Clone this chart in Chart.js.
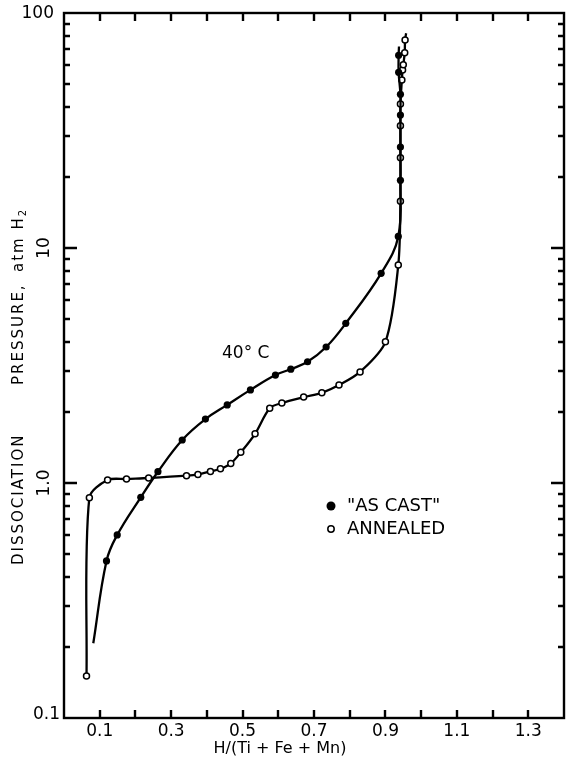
<!DOCTYPE html>
<html>
<head>
<meta charset="utf-8">
<script src="https://cdn.jsdelivr.net/npm/chart.js@4.4.0/dist/chart.umd.min.js"></script>
<style>
html, body { margin: 0; padding: 0; background: #fff; }
</style>
</head>
<body>
<canvas id="isoChart" width="571" height="764"></canvas>
<script>
// 40 C desorption isotherms, H/(Ti+Fe+Mn) vs dissociation pressure (atm H2)
const castX = [0.082, 0.119, 0.149, 0.215, 0.263, 0.331, 0.396, 0.457, 0.522, 0.592, 0.635, 0.682, 0.734, 0.789, 0.888, 0.936, 0.942, 0.942, 0.942, 0.942, 0.937, 0.937, 0.938];
const castP = [0.208, 0.466, 0.601, 0.869, 1.117, 1.524, 1.87, 2.15, 2.49, 2.88, 3.05, 3.28, 3.79, 4.78, 7.8, 11.2, 19.4, 26.9, 36.8, 45.1, 55.9, 66.1, 72];
// 0 = line end without a symbol
const castMark = [0, 1, 1, 1, 1, 1, 1, 1, 1, 1, 1, 1, 1, 1, 1, 1, 1, 1, 1, 1, 1, 1, 0];

const annealX = [0.063, 0.071, 0.122, 0.175, 0.237, 0.343, 0.375, 0.41, 0.438, 0.467, 0.495, 0.535, 0.576, 0.61, 0.671, 0.722, 0.77, 0.829, 0.9, 0.936, 0.942, 0.942, 0.942, 0.942, 0.946, 0.948, 0.95, 0.954, 0.955, 0.958];
const annealP = [0.151, 0.866, 1.03, 1.04, 1.05, 1.074, 1.087, 1.12, 1.15, 1.21, 1.35, 1.62, 2.08, 2.19, 2.32, 2.42, 2.61, 2.97, 3.99, 8.47, 15.8, 24.2, 33.1, 41, 51.9, 57.2, 60.3, 67.7, 76.8, 82];
const annealMark = [1, 1, 1, 1, 1, 1, 1, 1, 1, 1, 1, 1, 1, 1, 1, 1, 1, 1, 1, 1, 1, 1, 1, 1, 1, 1, 1, 1, 1, 0];

const xTickVals = [0.1, 0.2, 0.3, 0.4, 0.5, 0.6, 0.7, 0.8, 0.9, 1.0, 1.1, 1.2, 1.3];
const xTickLabels = ['0.1', '0.3', '0.5', '0.7', '0.9', '1.1', '1.3'];
const yTickVals = [0.1, 1, 10, 100];
const yTickLabels = ['0.1', '1.0', '10', '100'];

const INK = '#000';
const FONT = '"DejaVu Sans", sans-serif';

function pts(xs, ys) {
  return xs.map((v, i) => ({ x: v, y: ys[i] }));
}

// frame with inward ticks, tick labels, axis titles and the key
const axesPlugin = {
  id: 'axesPlugin',
  afterDraw(chart) {
    const { ctx, chartArea: a, scales: { x, y } } = chart;
    ctx.save();
    ctx.strokeStyle = INK;
    ctx.fillStyle = INK;
    ctx.lineWidth = 2.4;
    ctx.strokeRect(a.left, a.top, a.right - a.left, a.bottom - a.top);

    ctx.beginPath();
    xTickVals.forEach(v => {
      const px = Math.round(x.getPixelForValue(v));
      ctx.moveTo(px, a.bottom); ctx.lineTo(px, a.bottom - 8);
      ctx.moveTo(px, a.top); ctx.lineTo(px, a.top + 8);
    });
    [0.1, 1, 10].forEach(d => {
      for (let m = 1; m <= 9; m++) {
        const v = d * m;
        if (m === 1 && d === 0.1) continue;
        const py = Math.round(y.getPixelForValue(v));
        const len = m === 1 ? 13 : 6;
        ctx.moveTo(a.left, py); ctx.lineTo(a.left + len, py);
        ctx.moveTo(a.right, py); ctx.lineTo(a.right - len, py);
      }
    });
    ctx.stroke();

    // x tick labels
    ctx.font = '17px ' + FONT;
    ctx.textAlign = 'center';
    ctx.textBaseline = 'middle';
    xTickLabels.forEach(t => {
      ctx.fillText(t, x.getPixelForValue(parseFloat(t)), a.bottom + 14);
    });

    // y tick labels
    ctx.textAlign = 'right';
    ctx.fillText(yTickLabels[3], a.left - 10, y.getPixelForValue(yTickVals[3]) + 1);
    ctx.fillText(yTickLabels[0], a.left - 4, y.getPixelForValue(yTickVals[0]) - 3);
    [1, 2].forEach(i => {
      ctx.save();
      ctx.translate(a.left - 19, y.getPixelForValue(yTickVals[i]));
      ctx.rotate(-Math.PI / 2);
      ctx.textAlign = 'center';
      ctx.fillText(yTickLabels[i], 0, 0);
      ctx.restore();
    });

    // x title
    ctx.font = '16px ' + FONT;
    ctx.textAlign = 'center';
    ctx.fillText('H/(Ti + Fe + Mn)', 280, a.bottom + 31);

    // y title, written upward
    ctx.save();
    ctx.translate(19, 0);
    ctx.rotate(-Math.PI / 2);
    ctx.font = '15px ' + FONT;
    ctx.letterSpacing = '2px';
    ctx.textAlign = 'left';
    ctx.fillText('DISSOCIATION', -565, 0);
    ctx.fillText('PRESSURE,', -385, 0);
    const w = ctx.measureText('atm H').width;
    ctx.fillText('atm H', -272, 0);
    ctx.font = '10px ' + FONT;
    ctx.fillText('2', -272 + w, 4);
    ctx.restore();

    // curve label
    ctx.font = '17px ' + FONT;
    ctx.textAlign = 'left';
    ctx.fillText('40° C', 222, 354);

    // key
    ctx.font = '18px ' + FONT;
    ctx.beginPath();
    ctx.arc(331, 506, 4.5, 0, Math.PI * 2);
    ctx.fill();
    ctx.fillText('"AS CAST"', 347, 506);
    ctx.beginPath();
    ctx.lineWidth = 1.5;
    ctx.arc(331, 529, 3.2, 0, Math.PI * 2);
    ctx.stroke();
    ctx.fillText('ANNEALED', 347, 529);
    ctx.restore();
  }
};

new Chart(document.getElementById('isoChart'), {
  type: 'line',
  data: {
    datasets: [
      {
        label: '"AS CAST"',
        data: pts(castX, castP),
        borderColor: INK,
        borderWidth: 2.3,
        tension: 0.4,
        pointRadius: castMark.map(m => m ? 3.6 : 0),
        pointBackgroundColor: INK,
        pointBorderColor: INK,
        pointBorderWidth: 0
      },
      {
        label: 'ANNEALED',
        data: pts(annealX, annealP),
        borderColor: INK,
        borderWidth: 2.3,
        tension: 0.3,
        pointRadius: annealMark.map(m => m ? 3 : 0),
        pointBackgroundColor: '#fff',
        pointBorderColor: INK,
        pointBorderWidth: 1.5
      }
    ]
  },
  options: {
    responsive: false,
    animation: false,
    layout: { padding: { left: 64, right: 7, top: 13, bottom: 46 } },
    plugins: { legend: { display: false }, tooltip: { enabled: false } },
    scales: {
      x: { type: 'linear', min: 0, max: 1.4, display: false },
      y: { type: 'logarithmic', min: 0.1, max: 100, display: false }
    }
  },
  plugins: [axesPlugin]
});
</script>
</body>
</html>
